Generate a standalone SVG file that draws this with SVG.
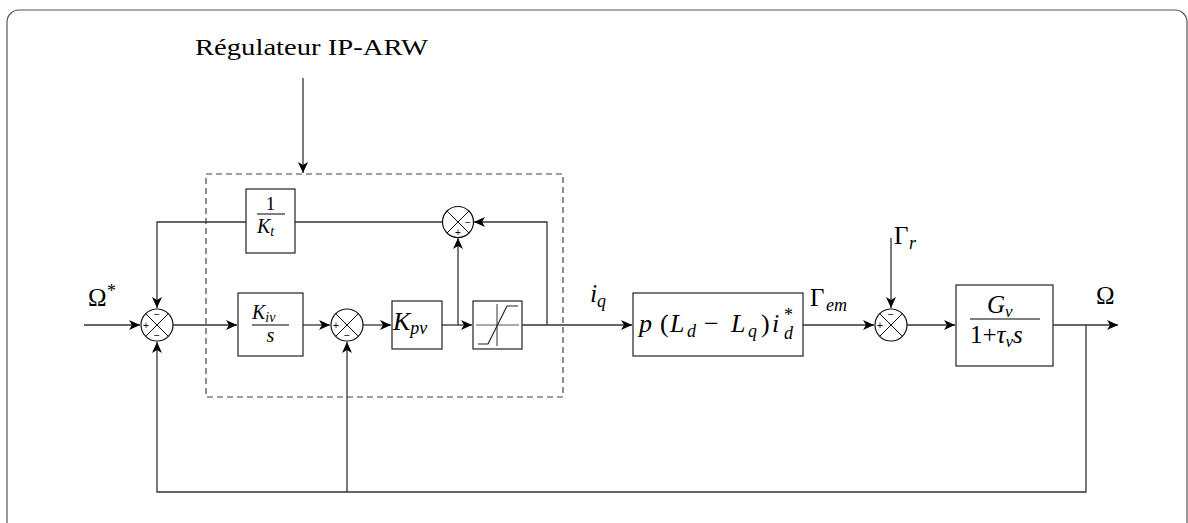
<svg xmlns="http://www.w3.org/2000/svg" width="1188" height="523" viewBox="0 0 1188 523">
<defs>
<marker id="arr" viewBox="-12 -6 14 12" markerWidth="14" markerHeight="12" refX="0" refY="0" orient="auto" markerUnits="userSpaceOnUse">
<path d="M0,0 L-11,-5 L-8,0 L-11,5 Z" fill="#000"/>
</marker>
<style>
.ln{fill:none;stroke:#333;stroke-width:1.3}
.bx{fill:#fff;stroke:#222;stroke-width:1.2}
.sm{fill:#fff;stroke:#111;stroke-width:1.2}
.x{stroke:#111;stroke-width:1}
.i{font-style:italic}
.sg{font-size:10px;fill:#000}
</style>
</defs>
<rect x="7" y="10" width="1180" height="530" rx="12" fill="none" stroke="#555" stroke-width="1.2"/>

<g id="regulator" font-family="'Liberation Serif', 'DejaVu Serif', serif">
<rect x="206" y="174" width="357" height="223" fill="none" stroke="#444" stroke-width="1.2" stroke-dasharray="6,4"/>
<text x="195" y="55" font-size="23" textLength="233" lengthAdjust="spacingAndGlyphs">Régulateur IP-ARW</text>
</g>

<g id="connectors">
<path class="ln" d="M303,78 V173" marker-end="url(#arr)"/>
<path class="ln" d="M84,325 H140" marker-end="url(#arr)"/>
<path class="ln" d="M173,325 H237" marker-end="url(#arr)"/>
<path class="ln" d="M303,325 H330" marker-end="url(#arr)"/>
<path class="ln" d="M363,325 H391" marker-end="url(#arr)"/>
<path class="ln" d="M442,325 H472" marker-end="url(#arr)"/>
<path class="ln" d="M458,325 V238" marker-end="url(#arr)"/>
<path class="ln" d="M522,325 H632" marker-end="url(#arr)"/>
<path class="ln" d="M547,325 V222 H474" marker-end="url(#arr)"/>
<path class="ln" d="M443,222 H295"/>
<path class="ln" d="M246,222 H157 V308" marker-end="url(#arr)"/>
<path class="ln" d="M803,325 H874" marker-end="url(#arr)"/>
<path class="ln" d="M891,238 V308" marker-end="url(#arr)"/>
<path class="ln" d="M907,325 H955" marker-end="url(#arr)"/>
<path class="ln" d="M1053,325 H1118" marker-end="url(#arr)"/>
<path class="ln" d="M1086,325 V492 H157 V342" marker-end="url(#arr)"/>
<path class="ln" d="M347,492 V342" marker-end="url(#arr)"/>
</g>

<g font-family="'Liberation Sans', Arial, sans-serif">
<g id="sum1">
<circle class="sm" cx="157" cy="325" r="16"/>
<path class="x" d="M145.7,313.7 L168.3,336.3 M168.3,313.7 L145.7,336.3"/>
<text class="sg" x="143" y="328.5">+</text>
<text class="sg" x="154" y="318">−</text>
<text class="sg" x="154" y="339">−</text>
</g>
<g id="sum2">
<circle class="sm" cx="347" cy="325" r="16"/>
<path class="x" d="M335.7,313.7 L358.3,336.3 M358.3,313.7 L335.7,336.3"/>
<text class="sg" x="333" y="328.5">+</text>
<text class="sg" x="344" y="339">−</text>
</g>
<g id="sum3">
<circle class="sm" cx="458" cy="222" r="15.5"/>
<path class="x" d="M447,211 L469,233 M469,211 L447,233"/>
<text class="sg" x="465" y="225.5">−</text>
<text class="sg" x="455" y="236">+</text>
</g>
<g id="sum4">
<circle class="sm" cx="891" cy="325" r="16"/>
<path class="x" d="M879.7,313.7 L902.3,336.3 M902.3,313.7 L879.7,336.3"/>
<text class="sg" x="877" y="328.5">+</text>
<text class="sg" x="888" y="318">−</text>
</g>
</g>

<g font-family="'Liberation Serif', 'DejaVu Serif', serif">
<g id="inv_kt">
<rect class="bx" x="246" y="189" width="49" height="64"/>
<text x="270.5" y="210" font-size="19" text-anchor="middle">1</text>
<line x1="257" y1="214" x2="285" y2="214" stroke="#000" stroke-width="1"/>
<text class="i" x="257" y="233" font-size="20">K<tspan font-size="14" dy="3">t</tspan></text>
</g>

<g id="ki_s">
<rect class="bx" x="238" y="293" width="65" height="63"/>
<text class="i" x="252" y="319" font-size="20">K<tspan font-size="14" dy="3">iv</tspan></text>
<line x1="252" y1="325" x2="289" y2="325" stroke="#000" stroke-width="1"/>
<text class="i" x="270.5" y="342" font-size="20" text-anchor="middle">s</text>
</g>

<g id="kpv">
<rect class="bx" x="392" y="301" width="50" height="48"/>
<text class="i" x="393" y="330" font-size="26">K<tspan font-size="18" dy="4">pv</tspan></text>
</g>

<g id="saturation">
<rect class="bx" x="473" y="301" width="49" height="48"/>
<path d="M476,325 H519 M497,304 V346" stroke="#555" stroke-width="1.2" fill="none"/>
<path d="M478,344 H488 L507,306 H518" stroke="#222" stroke-width="1.2" fill="none"/>
</g>

<g id="torque" font-size="26">
<rect class="bx" x="633" y="293" width="170" height="63"/>
<text class="i" x="639" y="332">p</text>
<text x="660" y="332">(</text>
<text class="i" x="670" y="332">L</text>
<text class="i" x="687" y="337" font-size="18">d</text>
<text x="704" y="332">−</text>
<text class="i" x="731" y="332">L</text>
<text class="i" x="748" y="337" font-size="18">q</text>
<text x="761" y="332">)</text>
<text class="i" x="772" y="332">i</text>
<text x="784" y="321" font-size="18">*</text>
<text class="i" x="784" y="339" font-size="18">d</text>
</g>

<g id="plant">
<rect class="bx" x="956" y="285" width="97" height="81"/>
<text class="i" x="987" y="313" font-size="25">G<tspan font-size="17" dy="4">v</tspan></text>
<line x1="970" y1="319" x2="1040" y2="319" stroke="#000" stroke-width="1.2"/>
<text x="970" y="343" font-size="25">1+<tspan class="i">τ</tspan><tspan font-size="17" dy="4" class="i">v</tspan><tspan dy="-4" class="i">s</tspan></text>
</g>

<g id="labels">
<text x="88" y="306" font-size="25">Ω</text>
<text x="107" y="297" font-size="18">*</text>
<text class="i" x="590" y="302" font-size="26">i</text>
<text class="i" x="597" y="307" font-size="18">q</text>
<text x="810" y="306" font-size="25">Γ</text>
<text class="i" x="826" y="311" font-size="18">em</text>
<text x="894" y="244" font-size="25">Γ</text>
<text class="i" x="909" y="249" font-size="18">r</text>
<text x="1096" y="304" font-size="25">Ω</text>
</g>
</g>
</svg>
